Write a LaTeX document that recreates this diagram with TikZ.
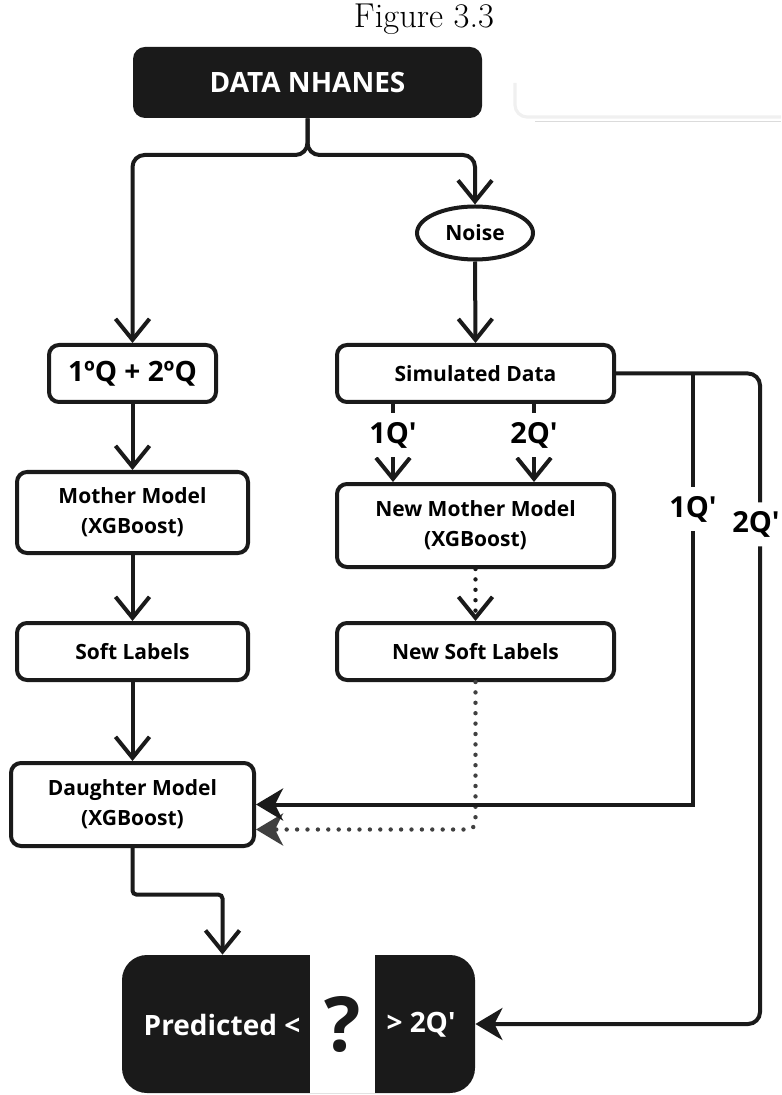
\documentclass[tikz,border=0pt]{standalone}
\usepackage{fontspec}
\newfontfamily\osb{Open Sans}[Ligatures=TeXOff]
\usetikzlibrary{arrows.meta,calc,shapes.geometric}
\definecolor{blk}{HTML}{1A1A1A}
\definecolor{dgray}{HTML}{404040}
\begin{document}
\begin{tikzpicture}[x=0.5pt,y=-0.5pt,
  box/.style={draw=blk, line width=2pt, rounded corners=5pt, fill=white, align=center,
    inner sep=0pt, font=\osb\bfseries\fontsize{10.5}{15}\selectfont},
  darkbox/.style={fill=blk, rounded corners=6pt, text=white, align=center, inner sep=0pt,
    font=\osb\bfseries\fontsize{14}{16}\selectfont},
  ln/.style={line width=2pt, draw=blk},
  arr/.style={ln, -{Straight Barb[length=10.5pt,width=17pt]}},
  stl/.style={ln, -{Stealth[length=13.5pt,width=16pt,inset=4pt]}},
  dotln/.style={line width=2.2pt, dash pattern=on 0pt off 5.2pt, line cap=round},
  lab/.style={fill=white, inner xsep=1pt, inner ysep=4.5pt,
    font=\osb\bfseries\fontsize{14.5}{17}\selectfont},
  txt/.style={inner sep=0pt, font=\osb\bfseries\fontsize{14}{16}\selectfont},
]
\useasboundingbox (0,0) rectangle (781,1095);

% title
\node[font=\fontsize{17.28}{20}\selectfont] (title) at (424,19) {Figure 3.3};

% faint remnant at top right
\draw[gray!12, line width=1.6pt, rounded corners=6pt] (515,83) |- (781,117);
\draw[gray!28, line width=0.6pt] (535,121.5) -- (781,121.5);

% nodes
\node[darkbox, minimum width=174.5pt, minimum height=35.5pt] (data) at (307.5,82.5) {DATA NHANES};
\node[ellipse, draw=blk, line width=2pt, fill=white, minimum width=58pt, minimum height=26.5pt,
  inner sep=0pt, font=\osb\bfseries\fontsize{10.5}{12}\selectfont] (noise) at (475,233) {Noise};
\node[box, minimum width=83.5pt, minimum height=28.5pt, font=\osb\bfseries\fontsize{14}{16}\selectfont]
  (q12) at (132.5,373.5) {1ºQ + 2ºQ};
\node[box, minimum width=115.5pt, minimum height=40.5pt] (mother) at (132.5,512.5) {Mother Model\\(XGBoost)};
\node[box, minimum width=115.5pt, minimum height=28.5pt] (soft) at (132.5,651.5) {Soft Labels};
\node[box, minimum width=121.5pt, minimum height=41.5pt] (daughter) at (132.5,804.5) {Daughter Model\\(XGBoost)};
\node[box, minimum width=138.5pt, minimum height=28.5pt] (sim) at (475.5,373.5) {Simulated Data};
\node[box, minimum width=138.5pt, minimum height=41.5pt] (newmother) at (475.5,525.5) {New Mother Model\\(XGBoost)};
\node[box, minimum width=138.5pt, minimum height=28.5pt] (newsoft) at (475.5,651.5) {New Soft Labels};

% final box
\node[darkbox, rounded corners=12.5pt, minimum width=176.5pt, minimum height=69pt] (final) at (298.5,1024) {};
\node[fill=white, minimum width=32.5pt, minimum height=69pt, inner sep=0pt,
  font=\osb\bfseries\fontsize{38}{40}\selectfont, text=blk] (qm) at (342.5,1024) {?};
\node[txt, text=white] (pred) at (222,1025) {Predicted <};
\node[txt, text=white] (gt) at (421,1025) {> 2Q'};

% connectors from DATA NHANES
\coordinate (split) at (307.5,155);
\draw[arr, rounded corners=6pt] (data.south) -- (split) -| (q12.north);
\draw[arr, rounded corners=6pt] (data.south) -- (split) -| (noise.north);
\draw[arr] (noise.south) -- (sim.north);

% left column
\draw[arr] (q12.south) -- (mother.north);
\draw[arr] (mother.south) -- (soft.north);
\draw[arr] (soft.south) -- (daughter.north);

% simulated -> new mother
\draw[arr] ($(sim.south)+(-82.5,0)$) -- node[lab, pos=0.40] (la) {1Q'} ($(newmother.north)+(-82.5,0)$);
\draw[arr] ($(sim.south)+(58.5,0)$) -- node[lab, pos=0.40] (lb) {2Q'} ($(newmother.north)+(58.5,0)$);

% new mother -> new soft (dotted)
\draw[dotln, draw=blk, -{Straight Barb[length=10.5pt,width=17pt,line width=2pt]}] (newmother.south) -- (newsoft.north);

% new soft -> daughter (dotted, gray)
\coordinate (g1) at ($(daughter.east)+(0,25)$);
\draw[dotln, draw=dgray, rounded corners=4pt, -{Stealth[length=13.5pt,width=16pt,inset=4pt,fill=dgray]}]
  (newsoft.south) |- (g1);

% simulated -> daughter (1Q') and -> final (2Q')
\coordinate (b1) at (693,373.5);
\coordinate (c1) at (b1 |- daughter.east);
\coordinate (r2) at (760,373.5);
\coordinate (c2) at (r2 |- final.east);
\draw[stl] (b1) -- node[lab, pos=0.315] (l1) {1Q'} (c1) -- (daughter.east);
\draw[stl, rounded corners=6pt] (sim.east) -- (r2) -- node[lab, pos=0.232, xshift=-2pt] (l2) {2Q'} (c2) -- (final.east);

% daughter -> final
\coordinate (d1) at ($(final.north)+(-76,-60)$);
\coordinate (d2) at ($(final.north)+(-76,0)$);
\draw[arr, rounded corners=2pt] (daughter.south) |- (d1) -- (d2);
\end{tikzpicture}
\end{document}
